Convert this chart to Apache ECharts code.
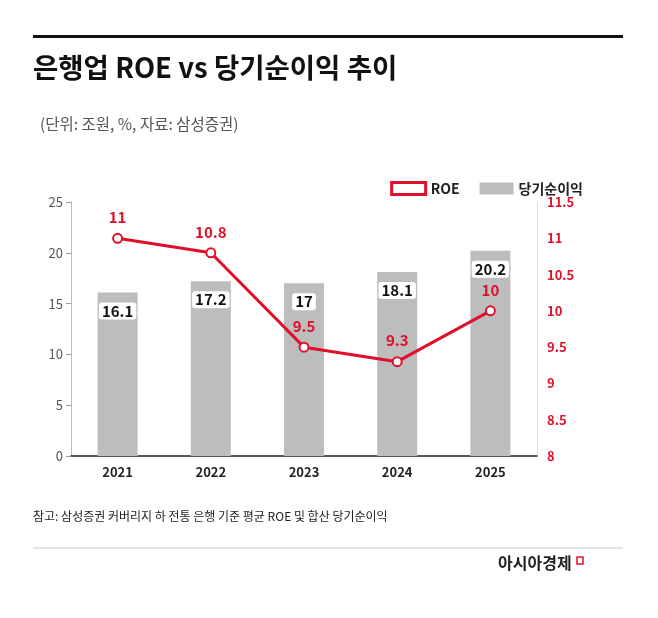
<!DOCTYPE html><html><head><meta charset="utf-8"><script src="https://cdn.jsdelivr.net/npm/echarts@6/dist/echarts.min.js"></script>
<style>body{margin:0;background:#fff}#c{width:658px;height:618px}</style></head><body><div id="c"></div><script>
const years=['2021','2022','2023','2024','2025'];
const profit=[16.1,17.2,17,18.1,20.2];
const roe=[11,10.8,9.5,9.3,10];
const F='"Noto Sans CJK KR","Noto Sans",sans-serif';
const ch=echarts.init(document.getElementById('c'));
ch.setOption({
 textStyle:{fontFamily:F},
 graphic:[
  {type:'rect',shape:{x:33,y:35,width:590,height:3},style:{fill:'#111'}},
  {type:'text',left:33,top:54,style:{text:'은행업 ROE vs 당기순이익 추이',font:'bold 27.5px '+F,fill:'#111'}},
  {type:'text',left:40,top:116,style:{text:'(단위: 조원, %, 자료: 삼성증권)',font:'15.5px '+F,fill:'#555'}},
  {type:'text',left:33,top:510,style:{text:'참고: 삼성증권 커버리지 하 전통 은행 기준 평균 ROE 및 합산 당기순이익',font:'12px '+F,fill:'#222'}},
  {type:'rect',shape:{x:33,y:547,width:590,height:2},style:{fill:'#e4e4e4'}},
  {type:'text',left:498,top:555,style:{text:'아시아경제',font:'bold 16px '+F,fill:'#222'}},
  {type:'rect',shape:{x:577,y:557,width:6,height:7},style:{fill:'none',stroke:'#e0102a',lineWidth:1.5}}
 ],
 legend:{right:70,top:176,itemGap:20,itemWidth:34,itemHeight:12,textStyle:{fontSize:14,fontWeight:'bold',color:'#222'},
  data:[{name:'ROE',icon:'rect',itemStyle:{color:'#fff',borderColor:'#e0102a',borderWidth:3}},{name:'당기순이익',icon:'rect'}]},
 grid:{left:71,right:121,top:202,bottom:162},
 xAxis:{type:'category',data:years,axisTick:{show:false},axisLine:{lineStyle:{color:'#222',width:1.5}},axisLabel:{color:'#222',fontWeight:'bold',fontSize:13,margin:10}},
 yAxis:[
  {type:'value',min:0,max:25,interval:5,splitLine:{show:false},axisLine:{show:true,lineStyle:{color:'#bbb'}},axisTick:{show:true,length:5,lineStyle:{color:'#999'}},axisLabel:{color:'#555',fontSize:13}},
  {type:'value',min:8,max:11.5,interval:0.5,position:'right',splitLine:{show:false},axisLine:{show:true,lineStyle:{color:'#ddd'}},axisTick:{show:false},axisLabel:{color:'#e0102a',fontSize:13,fontWeight:'bold',margin:10}}
 ],
 series:[
  {name:'당기순이익',type:'bar',data:profit,barWidth:40,itemStyle:{color:'#bdbdbd'},
   label:{show:true,position:'insideTop',distance:10,backgroundColor:'#fff',borderRadius:3,padding:[1,3],color:'#111',fontSize:15,fontWeight:'bold'}},
  {name:'ROE',type:'line',yAxisIndex:1,data:roe,symbol:'circle',symbolSize:9,lineStyle:{color:'#e0102a',width:3},
   itemStyle:{color:'#fff',borderColor:'#e0102a',borderWidth:2},
   label:{show:true,position:'top',distance:8,color:'#e0102a',fontSize:15,fontWeight:'bold'}}
 ]
});
</script></body></html>
